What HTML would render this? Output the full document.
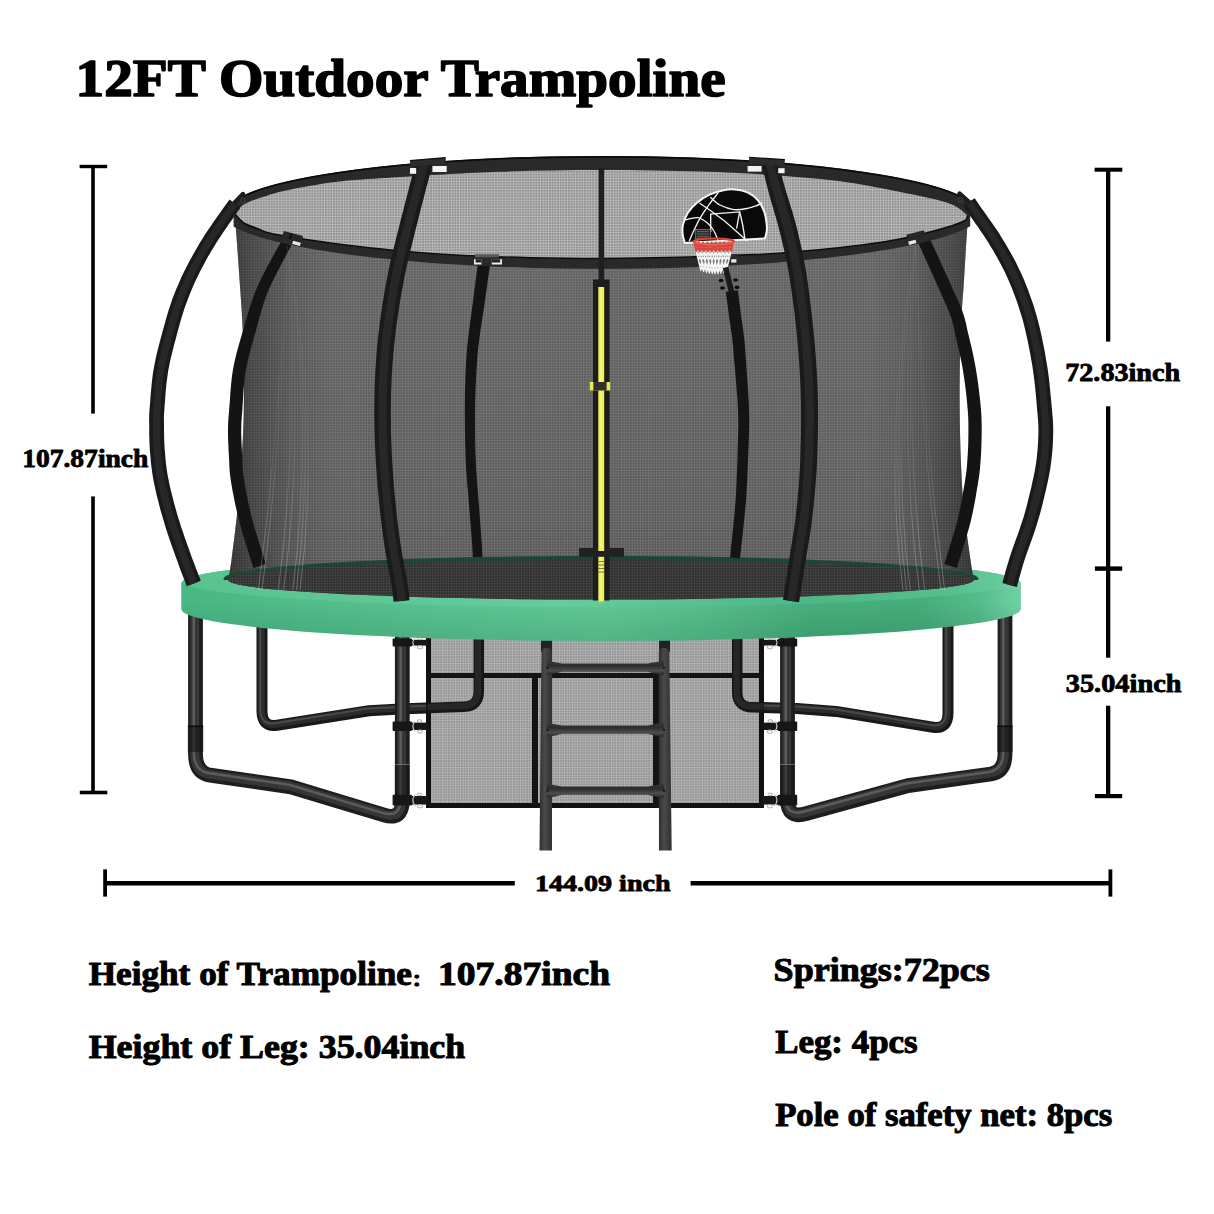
<!DOCTYPE html>
<html lang="en"><head><meta charset="utf-8"><title>12FT Outdoor Trampoline</title>
<style>
html,body{margin:0;padding:0;background:#fff;}
body{width:1214px;height:1214px;overflow:hidden;}
svg{display:block;}
text{font-family:"Liberation Serif","DejaVu Serif",serif;font-weight:bold;fill:#000;stroke:#000;stroke-linejoin:round;}
</style></head><body>
<svg width="1214" height="1214" viewBox="0 0 1214 1214">
<defs>
<pattern id="meshL" width="2.7" height="2.7" patternUnits="userSpaceOnUse">
<rect width="2.7" height="2.7" fill="#909090"/><path d="M0,0.4H2.7M0.4,0V2.7" stroke="#bfbfbf" stroke-width="0.8"/></pattern>
<pattern id="meshD" width="2.7" height="2.7" patternUnits="userSpaceOnUse">
<path d="M0,0.4H2.7M0.4,0V2.7" stroke="#8e8e8e" stroke-width="0.7" opacity="0.6"/></pattern>
<pattern id="meshS" width="2.6" height="2.6" patternUnits="userSpaceOnUse">
<rect width="2.6" height="2.6" fill="#949494"/><path d="M0,0H2.6M0,0V2.6" stroke="#c8c8c8" stroke-width="0.9"/></pattern>
<linearGradient id="netG" x1="0" y1="0" x2="0" y2="1">
<stop offset="0" stop-color="#606060"/><stop offset="0.6" stop-color="#5b5b5b"/><stop offset="1" stop-color="#535353"/></linearGradient>
<linearGradient id="edgeG" gradientUnits="userSpaceOnUse" x1="228" y1="0" x2="975" y2="0">
<stop offset="0" stop-color="#000" stop-opacity="0.45"/><stop offset="0.035" stop-color="#000" stop-opacity="0.27"/><stop offset="0.08" stop-color="#000" stop-opacity="0.12"/><stop offset="0.14" stop-color="#000" stop-opacity="0"/>
<stop offset="0.86" stop-color="#000" stop-opacity="0"/><stop offset="0.92" stop-color="#000" stop-opacity="0.12"/><stop offset="0.965" stop-color="#000" stop-opacity="0.27"/><stop offset="1" stop-color="#000" stop-opacity="0.45"/></linearGradient>
<linearGradient id="streakG" gradientUnits="userSpaceOnUse" x1="0" y1="246" x2="0" y2="598">
<stop offset="0" stop-color="#fff" stop-opacity="0.03"/><stop offset="0.55" stop-color="#fff" stop-opacity="0.1"/><stop offset="0.85" stop-color="#fff" stop-opacity="0.36"/><stop offset="1" stop-color="#fff" stop-opacity="0.45"/></linearGradient>
<linearGradient id="padG" x1="0" y1="0" x2="1" y2="0">
<stop offset="0" stop-color="#48b784"/><stop offset="0.12" stop-color="#4fbc89"/><stop offset="0.3" stop-color="#59c492"/><stop offset="0.5" stop-color="#60c997"/><stop offset="0.62" stop-color="#56bf8d"/><stop offset="0.75" stop-color="#46af7d"/><stop offset="0.88" stop-color="#45ad7b"/><stop offset="0.95" stop-color="#54bc8b"/><stop offset="1" stop-color="#70d2a3"/></linearGradient>
<linearGradient id="padV" x1="0" y1="0" x2="0" y2="1">
<stop offset="0" stop-color="#000" stop-opacity="0"/><stop offset="0.55" stop-color="#000" stop-opacity="0"/><stop offset="1" stop-color="#003018" stop-opacity="0.13"/></linearGradient>
<linearGradient id="padTG" x1="0" y1="0" x2="1" y2="0">
<stop offset="0" stop-color="#58c290"/><stop offset="0.45" stop-color="#66cc9c"/><stop offset="0.75" stop-color="#4eb786"/><stop offset="0.92" stop-color="#57bf8e"/><stop offset="1" stop-color="#6ccfa0"/></linearGradient>
<linearGradient id="legV" x1="0" y1="0" x2="1" y2="0">
<stop offset="0" stop-color="#161616"/><stop offset="0.35" stop-color="#4b4b4b"/><stop offset="0.6" stop-color="#2a2a2a"/><stop offset="1" stop-color="#111"/></linearGradient>
<linearGradient id="ladG" x1="0" y1="0" x2="1" y2="0">
<stop offset="0" stop-color="#2e2e2e"/><stop offset="0.4" stop-color="#4a4a4a"/><stop offset="1" stop-color="#303030"/></linearGradient>
<linearGradient id="stepG" x1="0" y1="0" x2="0" y2="1">
<stop offset="0" stop-color="#3a3a3a"/><stop offset="0.35" stop-color="#2c2c2c"/><stop offset="0.7" stop-color="#4c4c4c"/><stop offset="1" stop-color="#262626"/></linearGradient>
<linearGradient id="ringG" x1="0" y1="0" x2="0" y2="1">
<stop offset="0" stop-color="#0c0c0c"/><stop offset="1" stop-color="#2b2b2b"/></linearGradient>
</defs>
<rect width="1214" height="1214" fill="#fff"/>

<g id="legs-back">
<path d="M262,615 V711 Q262,727.5 277,725.3 L369,710.7 L405,708.8 L464,706.8 Q478.8,706.3 478.8,691 V630" fill="none" stroke="#181818" stroke-width="11.0" stroke-linejoin="round" /><path d="M262,615 V711 Q262,727.5 277,725.3 L369,710.7 L405,708.8 L464,706.8 Q478.8,706.3 478.8,691 V630" fill="none" stroke="#2c2c2c" stroke-width="6.6" stroke-linejoin="round" transform="translate(-0.7,-0.9)" /><path d="M262,615 V711 Q262,727.5 277,725.3 L369,710.7 L405,708.8 L464,706.8 Q478.8,706.3 478.8,691 V630" fill="none" stroke="#4a4a4a" stroke-width="1.9" stroke-linejoin="round" transform="translate(-1.7,-2.1)" />
<path d="M948,615 V713 Q948,729.5 933,727.2 L836,711.4 L797,708.5 L752,707.3 Q737.2,707 737.2,692 V630" fill="none" stroke="#181818" stroke-width="11.0" stroke-linejoin="round" /><path d="M948,615 V713 Q948,729.5 933,727.2 L836,711.4 L797,708.5 L752,707.3 Q737.2,707 737.2,692 V630" fill="none" stroke="#2c2c2c" stroke-width="6.6" stroke-linejoin="round" transform="translate(-0.7,-0.9)" /><path d="M948,615 V713 Q948,729.5 933,727.2 L836,711.4 L797,708.5 L752,707.3 Q737.2,707 737.2,692 V630" fill="none" stroke="#4a4a4a" stroke-width="1.9" stroke-linejoin="round" transform="translate(-1.7,-2.1)" />
</g>
<g id="skirt">
<rect x="428" y="636" width="334" height="170" fill="url(#meshS)"/>
<path d="M428.5,636V805.5H761.5V636" fill="none" stroke="#111" stroke-width="5"/>
<rect x="426" y="673" width="338" height="5" fill="#141414"/>
<rect x="532" y="675" width="6" height="131" fill="#141414"/>
<rect x="653" y="675" width="6" height="131" fill="#141414"/>
<rect x="541" y="636" width="11" height="16" fill="#222"/>
<rect x="659" y="636" width="11" height="16" fill="#222"/>
</g>
<g id="legs-back-inner">
<path d="M478.8,630 V691 Q478.8,706.3 464,706.8 L428,708" fill="none" stroke="#171717" stroke-width="10.5" stroke-linejoin="round" /><path d="M478.8,630 V691 Q478.8,706.3 464,706.8 L428,708" fill="none" stroke="#262626" stroke-width="6.3" stroke-linejoin="round" transform="translate(-0.7,-0.9)" />
<path d="M737.2,630 V692 Q737.2,707 752,707.3 L764,707.6" fill="none" stroke="#171717" stroke-width="10.5" stroke-linejoin="round" /><path d="M737.2,630 V692 Q737.2,707 752,707.3 L764,707.6" fill="none" stroke="#262626" stroke-width="6.3" stroke-linejoin="round" transform="translate(-0.7,-0.9)" />
</g>
<g id="ladder">
<path d="M541.5,652 Q541.5,648 546.7,648 Q552,648 552,652 L552,850.5 L539.5,850.5 Z" fill="url(#ladG)"/>
<path d="M658.8,652 Q658.8,648 664,648 Q669.3,648 669.3,652 L671.7,850.5 L659,850.5 Z" fill="url(#ladG)"/>
<path d="M547,660.8 Q556,662.3 562,663.5 L648,663.5 Q654,662.3 664,660.8 L664,674.8 Q654,673.8 648,671.8 L562,671.8 Q556,673.8 547,674.8 Z" fill="url(#stepG)"/>
<circle cx="547.5" cy="667.8" r="1.1" fill="#111"/><circle cx="664" cy="667.8" r="1.1" fill="#111"/>
<path d="M547,722.8 Q556,724.3 562,725.5 L648,725.5 Q654,724.3 664,722.8 L664,736.8 Q654,735.8 648,733.8 L562,733.8 Q556,735.8 547,736.8 Z" fill="url(#stepG)"/>
<circle cx="547.5" cy="729.8" r="1.1" fill="#111"/><circle cx="664" cy="729.8" r="1.1" fill="#111"/>
<path d="M547,783.7 Q556,785.2 562,786.4 L648,786.4 Q654,785.2 664,783.7 L664,797.7 Q654,796.7 648,794.7 L562,794.7 Q556,796.7 547,797.7 Z" fill="url(#stepG)"/>
<circle cx="547.5" cy="790.7" r="1.1" fill="#111"/><circle cx="664" cy="790.7" r="1.1" fill="#111"/>
</g>
<g id="legs-front">
<path d="M195.5,600 V754 Q195.5,772.6 210,775.2 L291,786.8 L384,815 Q402.3,820.5 402.3,801 V630" fill="none" stroke="#1e1e1e" stroke-width="14.8" stroke-linejoin="round" /><path d="M195.5,600 V754 Q195.5,772.6 210,775.2 L291,786.8 L384,815 Q402.3,820.5 402.3,801 V630" fill="none" stroke="#363636" stroke-width="8.9" stroke-linejoin="round" transform="translate(-0.7,-0.9)" /><path d="M195.5,600 V754 Q195.5,772.6 210,775.2 L291,786.8 L384,815 Q402.3,820.5 402.3,801 V630" fill="none" stroke="#5c5c5c" stroke-width="2.5" stroke-linejoin="round" transform="translate(-1.7,-2.1)" />
<path d="M1005,600 V754 Q1005,771.5 991,774 L908,785.6 L806,813.6 Q787.5,819 787.5,800 V630" fill="none" stroke="#1e1e1e" stroke-width="14.8" stroke-linejoin="round" /><path d="M1005,600 V754 Q1005,771.5 991,774 L908,785.6 L806,813.6 Q787.5,819 787.5,800 V630" fill="none" stroke="#363636" stroke-width="8.9" stroke-linejoin="round" transform="translate(-0.7,-0.9)" /><path d="M1005,600 V754 Q1005,771.5 991,774 L908,785.6 L806,813.6 Q787.5,819 787.5,800 V630" fill="none" stroke="#5c5c5c" stroke-width="2.5" stroke-linejoin="round" transform="translate(-1.7,-2.1)" />
<rect x="187.8" y="725.5" width="15.5" height="2" fill="#0a0a0a"/>
<rect x="187.8" y="728" width="15.5" height="24" fill="#141414" opacity="0.6"/>
<rect x="997.2" y="725.5" width="15.5" height="2" fill="#0a0a0a"/>
<rect x="997.2" y="728" width="15.5" height="24" fill="#141414" opacity="0.6"/>
<rect x="392.6" y="638.6" width="19.4" height="8.0" rx="1" fill="#161616"/>
<rect x="410.8" y="639.8" width="17.0" height="5.8" fill="#171717"/>
<path d="M415.3,638.1 q-5.0,4.5 0,9.0" fill="none" stroke="#c9c9c9" stroke-width="1.2"/>
<ellipse cx="419.9" cy="647.2" rx="2.6" ry="1.5" fill="none" stroke="#bdbdbd" stroke-width="1.1"/>
<ellipse cx="419.5" cy="638.2" rx="2.4" ry="1.3" fill="none" stroke="#a8a8a8" stroke-width="1"/>
<rect x="392.6" y="721.4" width="19.4" height="9.6" rx="1" fill="#161616"/>
<rect x="410.8" y="722.6" width="17.0" height="7.4" fill="#171717"/>
<path d="M415.3,720.9 q-5.0,5.3 0,10.6" fill="none" stroke="#c9c9c9" stroke-width="1.2"/>
<ellipse cx="419.9" cy="731.6" rx="2.6" ry="1.5" fill="none" stroke="#bdbdbd" stroke-width="1.1"/>
<ellipse cx="419.5" cy="721.0" rx="2.4" ry="1.3" fill="none" stroke="#a8a8a8" stroke-width="1"/>
<rect x="392.6" y="794.8" width="19.4" height="10.8" rx="1" fill="#161616"/>
<rect x="410.8" y="796.0" width="17.0" height="8.6" fill="#171717"/>
<path d="M415.3,794.3 q-5.0,5.9 0,11.8" fill="none" stroke="#c9c9c9" stroke-width="1.2"/>
<ellipse cx="419.9" cy="806.2" rx="2.6" ry="1.5" fill="none" stroke="#bdbdbd" stroke-width="1.1"/>
<ellipse cx="419.5" cy="794.4" rx="2.4" ry="1.3" fill="none" stroke="#a8a8a8" stroke-width="1"/>
<rect x="777.8" y="638.6" width="19.4" height="8.0" rx="1" fill="#161616"/>
<rect x="762.0" y="639.8" width="17.0" height="5.8" fill="#171717"/>
<path d="M774.5,638.1 q5.0,4.5 0,9.0" fill="none" stroke="#c9c9c9" stroke-width="1.2"/>
<ellipse cx="769.9" cy="647.2" rx="2.6" ry="1.5" fill="none" stroke="#bdbdbd" stroke-width="1.1"/>
<ellipse cx="770.3" cy="638.2" rx="2.4" ry="1.3" fill="none" stroke="#a8a8a8" stroke-width="1"/>
<rect x="777.8" y="721.4" width="19.4" height="9.6" rx="1" fill="#161616"/>
<rect x="762.0" y="722.6" width="17.0" height="7.4" fill="#171717"/>
<path d="M774.5,720.9 q5.0,5.3 0,10.6" fill="none" stroke="#c9c9c9" stroke-width="1.2"/>
<ellipse cx="769.9" cy="731.6" rx="2.6" ry="1.5" fill="none" stroke="#bdbdbd" stroke-width="1.1"/>
<ellipse cx="770.3" cy="721.0" rx="2.4" ry="1.3" fill="none" stroke="#a8a8a8" stroke-width="1"/>
<rect x="777.8" y="794.8" width="19.4" height="10.8" rx="1" fill="#161616"/>
<rect x="762.0" y="796.0" width="17.0" height="8.6" fill="#171717"/>
<path d="M774.5,794.3 q5.0,5.9 0,11.8" fill="none" stroke="#c9c9c9" stroke-width="1.2"/>
<ellipse cx="769.9" cy="806.2" rx="2.6" ry="1.5" fill="none" stroke="#bdbdbd" stroke-width="1.1"/>
<ellipse cx="770.3" cy="794.4" rx="2.4" ry="1.3" fill="none" stroke="#a8a8a8" stroke-width="1"/>
<rect x="394.8" y="764" width="15" height="1" fill="#777" opacity="0.8"/>
<rect x="394.8" y="765" width="15" height="30" fill="#151515" opacity="0.45"/>
<rect x="780.0" y="764" width="15" height="1" fill="#777" opacity="0.8"/>
<rect x="780.0" y="765" width="15" height="30" fill="#151515" opacity="0.45"/>
</g>
<g id="pad">
<path d="M181.3,583.2 A419.7,28.6 0 0 1 1020.9,583.2 L1020.9,609 A419.8,32 0 0 1 181.3,609 Z" fill="url(#padG)"/>
<path d="M181.3,583.2 A419.7,28.6 0 0 1 1020.9,583.2 L1020.9,609 A419.8,32 0 0 1 181.3,609 Z" fill="url(#padV)"/>
<path d="M181.3,583.2 A419.7,28.6 0 0 1 1020.9,583.2 L1020.6,581.5 A419.6,26 0 0 1 181.6,581.5 Z" fill="url(#padTG)"/>
</g>
<g id="net">
<path d="M233,205 L233.0,208.0 C233.3,209.7 234.0,207.3 235.0,218.0 C236.0,228.7 237.7,252.2 239.0,272.0 C240.3,291.8 242.2,312.3 243.0,337.0 C243.8,361.7 244.3,393.0 243.6,420.0 C242.8,447.0 240.5,475.7 238.5,499.0 C236.5,522.3 233.2,546.5 231.5,560.0 C229.8,573.5 228.6,576.5 228.0,579.8 A373.0,19.8 0 0 0 974.0,579.8 L974.0,579.8 C973.4,576.5 972.3,573.5 970.5,560.0 C968.7,546.5 964.8,522.3 963.0,499.0 C961.2,475.7 960.2,447.0 959.8,420.0 C959.4,393.0 959.8,360.3 960.5,337.0 C961.2,313.7 962.8,299.8 964.0,280.0 C965.2,260.2 967.0,230.0 968.0,218.0 C969.0,206.0 969.7,209.7 970.0,208.0 Z" fill="url(#netG)"/>
<path d="M233,205 L233.0,208.0 C233.3,209.7 234.0,207.3 235.0,218.0 C236.0,228.7 237.7,252.2 239.0,272.0 C240.3,291.8 242.2,312.3 243.0,337.0 C243.8,361.7 244.3,393.0 243.6,420.0 C242.8,447.0 240.5,475.7 238.5,499.0 C236.5,522.3 233.2,546.5 231.5,560.0 C229.8,573.5 228.6,576.5 228.0,579.8 A373.0,19.8 0 0 0 974.0,579.8 L974.0,579.8 C973.4,576.5 972.3,573.5 970.5,560.0 C968.7,546.5 964.8,522.3 963.0,499.0 C961.2,475.7 960.2,447.0 959.8,420.0 C959.4,393.0 959.8,360.3 960.5,337.0 C961.2,313.7 962.8,299.8 964.0,280.0 C965.2,260.2 967.0,230.0 968.0,218.0 C969.0,206.0 969.7,209.7 970.0,208.0 Z" fill="url(#meshD)"/>
<path d="M233,205 L233.0,208.0 C233.3,209.7 234.0,207.3 235.0,218.0 C236.0,228.7 237.7,252.2 239.0,272.0 C240.3,291.8 242.2,312.3 243.0,337.0 C243.8,361.7 244.3,393.0 243.6,420.0 C242.8,447.0 240.5,475.7 238.5,499.0 C236.5,522.3 233.2,546.5 231.5,560.0 C229.8,573.5 228.6,576.5 228.0,579.8 A373.0,19.8 0 0 0 974.0,579.8 L974.0,579.8 C973.4,576.5 972.3,573.5 970.5,560.0 C968.7,546.5 964.8,522.3 963.0,499.0 C961.2,475.7 960.2,447.0 959.8,420.0 C959.4,393.0 959.8,360.3 960.5,337.0 C961.2,313.7 962.8,299.8 964.0,280.0 C965.2,260.2 967.0,230.0 968.0,218.0 C969.0,206.0 969.7,209.7 970.0,208.0 Z" fill="url(#edgeG)"/>
<clipPath id="gClip"><rect x="200" y="540" width="820" height="40"/></clipPath>
<ellipse cx="601" cy="578.8" rx="377.5" ry="23" fill="#1b4733" clip-path="url(#gClip)"/>
<ellipse cx="601.0" cy="579.8" rx="373.0" ry="19.8" fill="#2d2d2d"/>
<ellipse cx="601.0" cy="579.8" rx="373.0" ry="19.8" fill="url(#meshD)" opacity="0.5"/>
</g>
<g id="poles-back" fill="#141414">
<path d="M281.7,240.5 L279.8,244.0 L277.1,248.8 L273.9,254.5 L270.4,260.9 L266.8,267.6 L263.3,274.3 L260.1,280.8 L257.4,286.7 L255.1,292.1 L253.1,297.4 L251.4,302.5 L249.8,307.4 L248.3,312.3 L246.9,317.2 L245.5,322.1 L244.1,327.0 L242.6,332.0 L241.1,337.1 L239.6,342.3 L238.1,347.5 L236.7,352.7 L235.4,357.9 L234.2,363.2 L233.2,368.4 L232.3,373.7 L231.6,379.2 L231.1,384.6 L230.6,390.0 L230.2,395.2 L229.9,400.0 L229.6,404.5 L229.2,408.5 L229.0,411.9 L228.7,414.9 L228.5,417.6 L228.3,420.0 L228.2,422.3 L228.1,424.7 L228.0,427.2 L228.0,430.0 L228.0,433.0 L228.0,436.1 L228.1,439.3 L228.2,442.5 L228.4,445.8 L228.5,449.0 L228.7,452.2 L228.9,455.3 L229.0,458.3 L229.2,461.2 L229.3,464.0 L229.4,467.0 L229.6,470.1 L229.9,473.4 L230.3,477.0 L230.9,481.0 L231.6,485.3 L232.4,490.0 L233.4,495.0 L234.4,500.2 L235.5,505.4 L236.7,510.7 L237.9,516.0 L239.2,521.1 L240.6,526.4 L242.2,532.0 L243.9,537.6 L245.6,543.2 L247.3,548.5 L248.8,553.4 L250.1,557.6 L251.2,560.9 L251.9,563.4 L252.5,565.2 L252.9,566.4 L253.2,567.2 L253.4,567.8 L253.6,568.1 L253.5,568.0 L253.6,568.2 L265.8,563.8 L265.7,563.4 L265.5,562.9 L265.5,562.9 L265.4,562.8 L265.2,562.3 L264.9,561.2 L264.4,559.5 L263.6,557.1 L262.6,553.7 L261.2,549.4 L259.7,544.6 L258.0,539.3 L256.4,533.8 L254.7,528.3 L253.2,522.9 L251.8,517.9 L250.6,512.9 L249.5,507.8 L248.3,502.7 L247.3,497.5 L246.3,492.5 L245.4,487.7 L244.6,483.1 L243.9,479.0 L243.4,475.3 L243.0,472.1 L242.8,469.1 L242.6,466.2 L242.5,463.5 L242.4,460.7 L242.3,457.7 L242.1,454.7 L241.9,451.5 L241.8,448.3 L241.6,445.1 L241.5,442.0 L241.4,438.9 L241.3,435.8 L241.2,432.9 L241.2,430.0 L241.3,427.4 L241.3,425.1 L241.4,423.0 L241.5,420.8 L241.7,418.5 L241.8,416.0 L242.1,413.0 L242.4,409.5 L242.6,405.4 L242.9,400.9 L243.2,396.0 L243.5,391.0 L243.9,385.8 L244.4,380.6 L245.0,375.5 L245.8,370.6 L246.7,365.7 L247.8,360.8 L249.0,355.8 L250.3,350.7 L251.6,345.7 L253.1,340.6 L254.5,335.5 L255.9,330.4 L257.3,325.4 L258.6,320.5 L259.9,315.7 L261.3,310.9 L262.7,306.1 L264.3,301.3 L266.0,296.4 L268.0,291.3 L270.5,285.7 L273.5,279.4 L276.9,272.8 L280.3,266.2 L283.7,259.8 L286.8,254.0 L289.4,249.2 L291.3,245.5Z"/>
<path d="M915.9,237.5 L916.5,239.0 L917.4,240.9 L918.4,243.2 L919.5,245.7 L920.8,248.5 L922.1,251.5 L923.5,254.5 L924.8,257.6 L926.3,260.8 L927.8,264.2 L929.5,267.7 L931.1,271.4 L932.8,275.1 L934.5,278.9 L936.2,282.7 L937.9,286.4 L939.5,290.1 L941.3,294.0 L943.0,297.9 L944.7,301.8 L946.4,305.6 L947.9,309.2 L949.3,312.6 L950.4,315.7 L951.4,318.3 L952.1,320.5 L952.6,322.5 L953.0,324.3 L953.5,326.3 L954.0,328.5 L954.5,331.2 L955.3,334.4 L956.1,338.2 L957.1,342.3 L958.1,346.8 L959.2,351.4 L960.2,356.2 L961.2,361.1 L962.2,365.9 L963.0,370.6 L963.7,375.4 L964.5,380.4 L965.2,385.5 L965.8,390.7 L966.4,395.8 L966.9,400.7 L967.3,405.3 L967.7,409.6 L968.0,413.4 L968.2,416.8 L968.3,420.0 L968.4,423.0 L968.4,425.9 L968.4,428.9 L968.4,431.8 L968.4,434.9 L968.3,438.1 L968.3,441.3 L968.2,444.4 L968.1,447.6 L967.9,450.7 L967.8,453.8 L967.6,456.7 L967.4,459.5 L967.2,462.1 L967.1,464.4 L966.9,466.5 L966.7,468.4 L966.5,470.5 L966.2,472.9 L965.8,475.6 L965.3,479.0 L964.7,482.9 L963.9,487.4 L963.1,492.3 L962.2,497.4 L961.3,502.6 L960.2,507.9 L959.2,513.0 L958.0,518.0 L956.8,523.0 L955.3,528.3 L953.6,533.9 L952.0,539.4 L950.4,544.6 L948.8,549.5 L947.5,553.7 L946.5,557.1 L945.7,559.6 L945.2,561.3 L944.9,562.3 L944.7,562.9 L944.6,563.1 L944.6,563.2 L944.5,563.5 L944.3,564.0 L956.7,568.0 L956.7,567.8 L956.7,567.8 L956.9,567.6 L957.0,567.0 L957.3,566.3 L957.6,565.1 L958.2,563.4 L958.9,560.9 L960.0,557.5 L961.3,553.4 L962.8,548.5 L964.5,543.2 L966.2,537.6 L967.8,531.9 L969.4,526.4 L970.8,521.0 L972.0,515.8 L973.1,510.5 L974.2,505.1 L975.2,499.7 L976.1,494.5 L976.9,489.6 L977.7,485.1 L978.3,481.0 L978.9,477.6 L979.3,474.6 L979.6,472.1 L979.9,469.8 L980.1,467.6 L980.2,465.4 L980.4,463.1 L980.6,460.5 L980.8,457.5 L981.0,454.5 L981.2,451.4 L981.3,448.2 L981.4,444.9 L981.5,441.6 L981.6,438.3 L981.6,435.1 L981.7,431.9 L981.7,428.9 L981.7,425.9 L981.6,422.8 L981.6,419.6 L981.4,416.1 L981.2,412.5 L980.9,408.4 L980.5,404.1 L980.0,399.3 L979.4,394.3 L978.8,389.1 L978.1,383.8 L977.4,378.6 L976.6,373.4 L975.8,368.4 L974.9,363.5 L973.9,358.5 L972.9,353.5 L971.8,348.6 L970.7,343.9 L969.6,339.4 L968.6,335.3 L967.7,331.6 L967.0,328.4 L966.5,325.8 L966.0,323.5 L965.5,321.4 L964.9,319.2 L964.2,316.8 L963.4,314.3 L962.4,311.3 L961.1,307.9 L959.6,304.3 L958.0,300.6 L956.3,296.7 L954.5,292.7 L952.7,288.8 L951.0,285.0 L949.3,281.2 L947.7,277.5 L946.0,273.7 L944.2,270.0 L942.5,266.2 L940.8,262.5 L939.2,259.0 L937.6,255.6 L936.2,252.4 L934.8,249.4 L933.4,246.4 L932.1,243.4 L930.8,240.7 L929.7,238.1 L928.6,235.9 L927.8,234.0 L927.1,232.5Z"/>
<path d="M478.4,259.2 L477.9,262.9 L477.3,268.0 L476.5,274.0 L475.6,280.7 L474.7,287.7 L473.8,294.7 L473.0,301.3 L472.2,307.2 L471.5,312.5 L470.8,317.6 L470.1,322.6 L469.5,327.5 L468.8,332.3 L468.2,337.1 L467.7,342.0 L467.2,347.0 L466.8,352.0 L466.4,357.0 L466.1,362.0 L465.8,367.0 L465.6,371.9 L465.4,376.9 L465.3,381.9 L465.1,386.8 L465.0,391.8 L464.9,396.8 L464.9,401.7 L464.8,406.7 L464.8,411.7 L464.8,416.6 L464.9,421.6 L464.9,426.5 L465.0,431.5 L465.1,436.4 L465.1,441.4 L465.3,446.4 L465.4,451.3 L465.6,456.3 L465.8,461.3 L466.0,466.3 L466.3,471.2 L466.7,476.2 L467.0,481.2 L467.4,486.2 L467.9,491.1 L468.3,496.0 L468.7,501.0 L469.1,505.9 L469.5,511.0 L469.9,516.4 L470.4,521.9 L470.8,527.3 L471.2,532.6 L471.6,537.4 L471.9,541.7 L472.2,545.3 L472.4,548.2 L472.5,550.5 L472.6,552.2 L472.6,553.6 L472.7,554.7 L472.7,555.5 L472.7,556.4 L472.7,557.1 L482.3,556.9 L482.3,556.2 L482.3,555.4 L482.3,554.5 L482.2,553.3 L482.2,551.9 L482.1,550.0 L482.0,547.6 L481.8,544.7 L481.6,541.0 L481.3,536.7 L480.9,531.8 L480.5,526.6 L480.1,521.1 L479.7,515.6 L479.3,510.3 L478.9,505.1 L478.5,500.2 L478.1,495.2 L477.7,490.3 L477.3,485.3 L476.9,480.4 L476.6,475.5 L476.2,470.6 L476.0,465.7 L475.8,460.8 L475.6,455.9 L475.4,451.0 L475.3,446.1 L475.2,441.2 L475.2,436.3 L475.1,431.4 L475.1,426.5 L475.1,421.5 L475.1,416.6 L475.1,411.7 L475.2,406.8 L475.2,401.9 L475.3,397.0 L475.5,392.1 L475.7,387.2 L475.9,382.3 L476.1,377.3 L476.4,372.4 L476.6,367.5 L477.0,362.7 L477.3,357.8 L477.7,352.9 L478.2,348.0 L478.8,343.2 L479.4,338.5 L480.0,333.8 L480.7,329.1 L481.5,324.3 L482.2,319.3 L483.0,314.2 L483.8,308.8 L484.6,302.9 L485.6,296.3 L486.6,289.3 L487.5,282.3 L488.5,275.7 L489.4,269.6 L490.1,264.6 L490.6,260.8Z"/>
<path d="M725.8,291.8 L726.1,294.0 L726.5,297.0 L726.9,300.6 L727.5,304.5 L728.0,308.6 L728.6,312.7 L729.1,316.5 L729.5,319.8 L730.0,322.7 L730.4,325.4 L730.7,328.0 L731.1,330.4 L731.5,332.7 L731.8,335.0 L732.1,337.3 L732.4,339.7 L732.6,341.9 L732.8,343.7 L733.0,345.5 L733.1,347.3 L733.3,349.4 L733.5,351.9 L733.7,355.1 L734.0,359.0 L734.5,364.0 L735.0,369.9 L735.6,376.5 L736.2,383.4 L736.7,390.5 L737.3,397.5 L737.7,404.1 L738.0,410.2 L738.2,415.7 L738.2,420.7 L738.3,425.6 L738.2,430.3 L738.1,435.1 L738.0,440.0 L737.8,445.2 L737.6,450.8 L737.5,456.8 L737.3,463.1 L737.1,469.6 L736.8,476.2 L736.5,483.0 L736.2,489.8 L735.8,496.5 L735.3,503.2 L734.8,510.2 L734.1,517.9 L733.3,525.7 L732.5,533.5 L731.8,541.0 L731.0,547.6 L730.5,553.3 L730.0,557.5 L740.0,558.5 L740.4,554.3 L741.1,548.7 L741.8,542.1 L742.7,534.6 L743.5,526.8 L744.3,518.8 L745.1,511.1 L745.7,504.0 L746.2,497.2 L746.6,490.3 L747.0,483.5 L747.3,476.7 L747.6,470.0 L747.9,463.5 L748.1,457.2 L748.4,451.2 L748.6,445.6 L748.8,440.4 L748.9,435.4 L749.1,430.5 L749.1,425.7 L749.2,420.7 L749.1,415.4 L749.0,409.8 L748.8,403.6 L748.4,396.8 L748.0,389.7 L747.5,382.5 L747.0,375.5 L746.5,369.0 L746.1,363.1 L745.8,358.2 L745.5,354.2 L745.3,351.1 L745.1,348.5 L745.0,346.4 L744.8,344.5 L744.7,342.6 L744.5,340.6 L744.2,338.3 L743.9,335.8 L743.6,333.4 L743.3,331.0 L743.0,328.6 L742.6,326.2 L742.2,323.7 L741.9,321.0 L741.5,318.2 L741.0,314.9 L740.5,311.1 L740.0,307.1 L739.5,303.0 L739.0,299.0 L738.5,295.4 L738.1,292.4 L737.8,290.2Z"/>
</g>
<g id="streaks" stroke-width="0.6" fill="none">
<path d="M287.5,246 Q279.4,430 258.4,590" stroke="url(#streakG)"/>
<path d="M915.5,246 Q923.6,430 944.6,590" stroke="url(#streakG)"/>
<path d="M287.5,246 Q283.0,430 262.0,590" stroke="url(#streakG)"/>
<path d="M915.5,246 Q920.0,430 941.0,590" stroke="url(#streakG)"/>
<path d="M287.5,246 Q299.3,430 278.3,590" stroke="url(#streakG)"/>
<path d="M915.5,246 Q903.7,430 924.7,590" stroke="url(#streakG)"/>
<path d="M287.5,246 Q304.7,430 283.7,590" stroke="url(#streakG)"/>
<path d="M915.5,246 Q898.3,430 919.3,590" stroke="url(#streakG)"/>
<path d="M287.5,246 Q313.8,430 292.8,590" stroke="url(#streakG)"/>
<path d="M915.5,246 Q889.2,430 910.2,590" stroke="url(#streakG)"/>
<path d="M287.5,246 Q317.4,430 296.4,590" stroke="url(#streakG)"/>
<path d="M915.5,246 Q885.6,430 906.6,590" stroke="url(#streakG)"/>
<path d="M287.5,246 Q321.0,430 300.0,590" stroke="url(#streakG)"/>
<path d="M915.5,246 Q882.0,430 903.0,590" stroke="url(#streakG)"/>
</g>
<clipPath id="ringClip"><rect x="233.6" y="140" width="736.6" height="140"/></clipPath>
<g id="topring" clip-path="url(#ringClip)">
<path d="M228,211.5 A373.5,55.5 0 0 1 975,211.5 L981.5,212.5 A380,56.3 0 0 1 221.5,212.5 Z" fill="#292929"/>
<path d="M228.8,211.5 A372.7,54.7 0 0 1 974.2,211.5" fill="none" stroke="#0b0b0b" stroke-width="1.8"/>
<path d="M235.5,214.5 C236.8,212.9 238.6,207.9 243.0,205.0 C247.4,202.1 254.8,199.7 262.0,197.3 C269.1,194.9 273.7,193.0 285.9,190.4 C298.1,187.8 318.8,184.1 335.3,182.0 C351.8,179.9 372.4,178.9 384.7,178.0 C397.0,177.1 390.2,177.4 409.4,176.4 C428.6,175.4 468.1,172.9 500.0,171.8 C531.9,170.8 567.7,170.1 601.0,170.1 C634.3,170.1 671.8,170.8 700.0,171.6 C728.2,172.4 746.7,173.4 770.0,175.0 C793.3,176.6 818.5,178.4 840.0,181.2 C861.5,184.0 881.2,188.1 899.3,191.8 C917.4,195.5 937.3,199.4 948.7,203.3 C960.1,207.2 964.4,213.5 967.5,215.5 L965.0,220.5 C962.2,221.6 958.0,224.1 948.0,227.0 C938.0,229.9 919.7,234.9 905.0,238.0 C890.3,241.1 881.0,242.8 860.0,245.3 C839.0,247.9 799.0,251.7 779.0,253.3 C759.0,254.9 756.5,254.2 740.0,254.9 C723.5,255.6 703.2,256.7 680.0,257.3 C656.8,257.9 626.0,258.4 601.0,258.5 C576.0,258.6 553.5,258.2 530.0,257.7 C506.5,257.1 481.7,256.3 460.0,255.2 C438.3,254.1 420.0,252.7 400.0,250.9 C380.0,249.1 361.1,247.1 340.0,244.3 C318.9,241.5 287.1,236.6 273.5,234.0 C259.9,231.4 263.6,230.8 258.6,229.0 C253.7,227.2 247.7,225.4 243.8,223.0 C240.0,220.6 236.9,215.9 235.5,214.5 Z" fill="url(#meshL)"/>
<path d="M967.5,215.5 C967.1,216.3 968.2,218.6 965.0,220.5 C961.8,222.4 958.0,224.1 948.0,227.0 C938.0,229.9 919.7,234.9 905.0,238.0 C890.3,241.1 881.0,242.8 860.0,245.3 C839.0,247.9 799.0,251.7 779.0,253.3 C759.0,254.9 756.5,254.2 740.0,254.9 C723.5,255.6 703.2,256.7 680.0,257.3 C656.8,257.9 626.0,258.4 601.0,258.5 C576.0,258.6 553.5,258.2 530.0,257.7 C506.5,257.1 481.7,256.3 460.0,255.2 C438.3,254.1 420.0,252.7 400.0,250.9 C380.0,249.1 361.1,247.1 340.0,244.3 C318.9,241.5 287.1,236.6 273.5,234.0 C259.9,231.4 263.6,230.8 258.6,229.0 C253.7,227.2 247.7,225.4 243.8,223.0 C240.0,220.6 236.9,215.9 235.5,214.5" fill="none" stroke="#0d0d0d" stroke-width="1.5"/>
</g>
<g id="clips">
<rect x="475" y="254.2" width="24" height="3.2" fill="#5a5a5a"/>
<path d="M474,259.3 h7.4 v5.2 h-7.4 Z M491.8,259.3 h10.2 v5.2 h-10.2 Z" fill="#ededed"/>
<path d="M475.6,259.3 h5.8 v3.3 h-5.8 Z M491.8,259.3 h8.4 v3.3 h-8.4 Z" fill="#222"/>
<g transform="translate(292.5,237) rotate(15)"><rect x="-10" y="-3.6" width="20" height="6.6" fill="#262626"/><rect x="1.5" y="3.4" width="8" height="3.4" fill="#e6e6e6"/><rect x="-3" y="-3.6" width="2" height="6.6" fill="#111"/></g>
<g transform="translate(916,236) rotate(-15)"><rect x="-9" y="-3.6" width="18" height="6.6" fill="#262626"/><rect x="-9" y="3.4" width="7.6" height="3.6" fill="#e6e6e6"/></g>
<rect x="729.6" y="254.2" width="8" height="4.4" fill="#2a2a2a"/><rect x="731.2" y="259.2" width="5.2" height="3.4" fill="#e4e4e4"/>
</g>
<g id="zipper">
<rect x="598.6" y="168" width="5.6" height="115" fill="#1f1f1f"/>
<rect x="593" y="279.5" width="16.6" height="321" fill="#1d1d1d"/>
<rect x="598.3" y="287" width="5.9" height="314.5" fill="#eef05a"/>
<rect x="600" y="287" width="2" height="314" fill="#f6f78a" opacity="0.7"/>
<path d="M598.3,561.5h5.9M598.3,565h5.9M598.3,568.5h5.9M598.3,572h5.9" stroke="#4a4a2a" stroke-width="1.2" opacity="0.7"/>
<rect x="579" y="548" width="45" height="8.8" fill="#212121"/>
<rect x="598.3" y="548" width="5.9" height="3.4" fill="#eef05a"/><rect x="598" y="551.2" width="6.5" height="1.3" fill="#111"/>
<rect x="589.8" y="382" width="20.4" height="8.5" fill="#e6ea4c"/><rect x="593.4" y="382" width="13.2" height="8.5" fill="#303030"/>
<path d="M598.3,601 h5.9 l-0.6,2.6 h-4.7 Z" fill="#9ccf6c" opacity="0.7"/>
</g>
<g id="hoop">
<path d="M684.8,243.0 C684.4,241.5 682.9,236.9 682.6,233.8 C682.3,230.7 682.1,228.1 683.0,224.6 C683.9,221.1 685.4,216.7 687.7,213.0 C690.0,209.3 693.2,205.8 696.9,202.7 C700.5,199.6 705.2,196.7 709.6,194.6 C714.0,192.5 719.2,191.1 723.4,190.2 C727.6,189.3 731.0,189.1 735.0,189.4 C739.0,189.8 743.8,190.5 747.6,192.3 C751.4,194.1 755.2,197.1 758.0,200.4 C760.8,203.7 762.8,207.9 764.3,211.9 C765.8,215.9 766.3,221.3 766.7,224.6 C767.1,227.9 767.0,229.2 766.7,231.5 C766.4,233.8 765.3,237.2 765.0,238.4 Z" fill="#090909" stroke="#f4f4f4" stroke-width="2" stroke-linejoin="round"/>
<g fill="none" stroke="#f2f2f2" stroke-width="1.35" stroke-linecap="round">
<path d="M718.2,192.9 C716.8,194.7 712.6,199.7 709.6,203.8 C706.6,207.9 703.1,213.1 700.4,217.7 C697.7,222.3 695.2,227.7 693.4,231.5 C691.6,235.3 690.1,239.2 689.4,240.7"/>
<path d="M684.8,220.0 C687.0,219.6 694.1,217.0 698.0,217.7 C701.9,218.4 705.7,221.7 708.4,224.0 C711.1,226.3 712.7,228.9 714.2,231.5 C715.8,234.1 717.1,238.2 717.7,239.6"/>
<path d="M699.8,203.2 L710.7,210.7 L724.6,221 L747,240.7"/>
<path d="M710.7,197.5 C712.2,198.8 716.1,203.0 720.0,205.0 C723.9,207.0 729.2,209.0 733.8,209.6 C738.4,210.2 743.8,209.1 747.6,208.4 C751.5,207.7 754.5,206.4 756.9,205.5 C759.3,204.6 761.1,203.4 762.0,203.0"/>
<path d="M710.7,231.5 L710.7,214.2 L739.6,211.9 L736.7,228"/>
<path d="M739.6,212 C742.5,222 744,232 745,240"/>
</g>
<rect x="695.2" y="229.4" width="15.2" height="9.4" fill="#2c2c2c" stroke="#8a8a8a" stroke-width="0.7"/>
<path d="M697,231.5 h11.5 M697,234 h11.5 M697,236.5 h11.5" stroke="#777" stroke-width="0.7"/>
<path d="M696,250 L700.8,270.6 Q713.5,273.6 726.4,270.6 L731.4,250 Z" fill="#bdbdbd" opacity="0.55"/>
<path d="M696.0,251 L700.8,270.6 M696.0,251 L701.8,261.0 L700.8,270.6 M699.9,251 L698.4,261.0 L703.6,270.6 M699.9,251 L703.6,271.6 M699.9,251 L705.2,261.0 L703.6,271.6 M703.9,251 L701.8,261.0 L706.5,271.6 M703.9,251 L706.5,272.5 M703.9,251 L708.6,261.0 L706.5,272.5 M707.8,251 L705.2,261.0 L709.3,272.5 M707.8,251 L709.3,273.2 M707.8,251 L712.0,261.0 L709.3,273.2 M711.7,251 L708.6,261.0 L712.2,273.2 M711.7,251 L712.2,273.6 M711.7,251 L715.3,261.0 L712.2,273.6 M715.7,251 L712.0,261.0 L715.0,273.6 M715.7,251 L715.0,273.6 M715.7,251 L718.7,261.0 L715.0,273.6 M719.6,251 L715.3,261.0 L717.9,273.6 M719.6,251 L717.9,273.2 M719.6,251 L722.1,261.0 L717.9,273.2 M723.5,251 L718.7,261.0 L720.7,273.2 M723.5,251 L720.7,272.5 M723.5,251 L725.5,261.0 L720.7,272.5 M727.5,251 L722.1,261.0 L723.6,272.5 M727.5,251 L723.6,271.6 M727.5,251 L728.9,261.0 L723.6,271.6 M731.4,251 L725.5,261.0 L726.4,271.6 M731.4,251 L726.4,270.6" stroke="#f7f7f7" stroke-width="1.15" fill="none" stroke-linecap="round"/>
<path d="M694.6,242.4 L696.0,251.4 M694.6,242.4 L699.9,251.4 M698.8,242.4 L696.0,251.4 M698.8,242.4 L699.9,251.4 M698.8,242.4 L703.9,251.4 M703.1,242.4 L699.9,251.4 M703.1,242.4 L703.9,251.4 M703.1,242.4 L707.8,251.4 M707.3,242.4 L703.9,251.4 M707.3,242.4 L707.8,251.4 M707.3,242.4 L711.7,251.4 M711.6,242.4 L707.8,251.4 M711.6,242.4 L711.7,251.4 M711.6,242.4 L715.7,251.4 M715.8,242.4 L711.7,251.4 M715.8,242.4 L715.7,251.4 M715.8,242.4 L719.6,251.4 M720.1,242.4 L715.7,251.4 M720.1,242.4 L719.6,251.4 M720.1,242.4 L723.5,251.4 M724.3,242.4 L719.6,251.4 M724.3,242.4 L723.5,251.4 M724.3,242.4 L727.5,251.4 M728.6,242.4 L723.5,251.4 M728.6,242.4 L727.5,251.4 M728.6,242.4 L731.4,251.4 M732.8,242.4 L727.5,251.4 M732.8,242.4 L731.4,251.4" stroke="#d84a40" stroke-width="1.7" fill="none" stroke-linecap="round"/>
<ellipse cx="713.7" cy="241.6" rx="20.3" ry="3.1" fill="none" stroke="#d6443b" stroke-width="2.2"/>
<path d="M693.6,242.4 Q713.7,247.6 733.8,242.4" stroke="#e7665c" stroke-width="1.4" fill="none"/>
<path d="M725.5,267.5 L731.6,292" stroke="#1a1a1a" stroke-width="5.6"/>
<ellipse cx="721.0" cy="280.5" rx="2.5" ry="1.8" fill="#0e0e0e"/>
<ellipse cx="735.6" cy="280.0" rx="2.5" ry="1.8" fill="#0e0e0e"/>
<ellipse cx="722.5" cy="288.0" rx="2.5" ry="1.8" fill="#0e0e0e"/>
<ellipse cx="737.0" cy="287.4" rx="2.5" ry="1.8" fill="#0e0e0e"/>
</g>
<g id="poles-front">
<path d="M229.5,199.5 L229.4,199.8 L229.3,199.9 L229.0,200.2 L228.6,200.7 L228.1,201.4 L227.4,202.4 L226.3,203.9 L225.0,205.8 L223.2,208.3 L221.0,211.5 L218.4,215.1 L215.6,219.1 L212.7,223.2 L209.8,227.5 L207.0,231.6 L204.4,235.6 L202.0,239.4 L199.7,243.1 L197.5,246.9 L195.3,250.7 L193.1,254.4 L191.1,258.2 L189.0,262.0 L187.1,265.8 L185.2,269.6 L183.3,273.3 L181.5,277.1 L179.8,280.9 L178.2,284.7 L176.5,288.5 L175.0,292.2 L173.5,296.0 L172.1,299.8 L170.9,303.4 L169.7,307.0 L168.5,310.6 L167.4,314.3 L166.3,318.1 L165.2,322.1 L164.0,326.4 L162.7,331.0 L161.4,335.9 L160.0,341.1 L158.6,346.5 L157.2,352.0 L155.9,357.5 L154.8,362.9 L153.8,368.3 L152.9,373.6 L152.2,379.2 L151.6,384.7 L151.1,390.2 L150.6,395.4 L150.3,400.3 L149.9,404.7 L149.6,408.4 L149.4,411.6 L149.2,414.0 L149.2,416.1 L149.1,417.8 L149.1,419.5 L149.1,421.1 L149.2,422.8 L149.2,425.1 L149.2,427.7 L149.2,430.5 L149.2,433.6 L149.3,436.8 L149.4,440.1 L149.5,443.5 L149.7,447.0 L149.9,450.6 L150.2,454.1 L150.5,457.6 L150.8,461.2 L151.2,464.9 L151.7,468.8 L152.2,472.8 L152.9,477.0 L153.7,481.4 L154.7,486.0 L155.7,490.9 L156.9,495.9 L158.2,501.0 L159.5,506.2 L160.9,511.4 L162.4,516.6 L163.9,521.6 L165.4,526.8 L167.1,532.1 L168.9,537.4 L170.7,542.7 L172.5,547.8 L174.3,552.7 L175.9,557.3 L177.5,561.5 L178.9,565.5 L180.3,569.4 L181.7,573.0 L183.0,576.4 L184.2,579.5 L185.2,582.2 L186.1,584.4 L186.8,586.2 L200.8,580.8 L200.1,579.0 L199.2,576.7 L198.2,574.0 L197.0,571.0 L195.7,567.7 L194.4,564.1 L193.0,560.4 L191.5,556.5 L190.0,552.3 L188.4,547.7 L186.6,542.8 L184.8,537.7 L183.1,532.6 L181.3,527.4 L179.7,522.3 L178.1,517.4 L176.7,512.4 L175.3,507.4 L173.9,502.4 L172.6,497.3 L171.4,492.4 L170.2,487.5 L169.2,482.9 L168.3,478.6 L167.5,474.5 L166.9,470.6 L166.4,466.9 L165.9,463.3 L165.6,459.7 L165.3,456.3 L165.0,452.8 L164.7,449.4 L164.5,446.1 L164.3,442.9 L164.2,439.6 L164.1,436.5 L164.1,433.4 L164.0,430.5 L164.0,427.6 L164.0,424.9 L164.0,422.6 L163.9,420.8 L163.9,419.3 L163.9,418.0 L163.9,416.6 L164.0,414.8 L164.1,412.6 L164.4,409.6 L164.6,405.7 L165.0,401.4 L165.3,396.6 L165.7,391.5 L166.2,386.2 L166.8,380.9 L167.5,375.7 L168.2,370.7 L169.2,365.8 L170.2,360.6 L171.5,355.4 L172.8,350.1 L174.1,344.8 L175.5,339.7 L176.8,334.8 L178.0,330.2 L179.2,326.0 L180.3,322.1 L181.3,318.4 L182.4,314.9 L183.5,311.5 L184.6,308.1 L185.8,304.7 L187.1,301.2 L188.5,297.5 L189.9,293.9 L191.4,290.3 L192.9,286.7 L194.5,283.1 L196.2,279.5 L198.0,275.8 L199.7,272.2 L201.6,268.6 L203.5,264.9 L205.5,261.3 L207.5,257.6 L209.6,254.0 L211.8,250.3 L214.0,246.7 L216.2,243.0 L218.6,239.2 L221.3,235.2 L224.1,231.1 L226.9,227.0 L229.6,223.0 L232.2,219.4 L234.4,216.2 L236.2,213.6 L237.5,211.7 L238.5,210.3 L239.1,209.4 L239.5,208.9 L239.7,208.6 L239.9,208.4 L240.2,208.1 L240.5,207.7Z" fill="#1a1a1a"/>
<path d="M232.3,201.6 L232.1,201.8 L231.9,202.0 L231.7,202.3 L231.3,202.8 L230.8,203.4 L230.1,204.4 L229.1,205.8 L227.8,207.7 L226.0,210.3 L223.8,213.5 L221.2,217.1 L218.4,221.1 L215.5,225.2 L212.6,229.4 L209.9,233.5 L207.4,237.4 L205.0,241.2 L202.7,244.9 L200.5,248.7 L198.3,252.4 L196.2,256.2 L194.2,259.9 L192.2,263.6 L190.2,267.4 L188.4,271.1 L186.5,274.9 L184.8,278.6 L183.1,282.3 L181.5,286.1 L179.9,289.8 L178.4,293.6 L176.9,297.3 L175.6,301.0 L174.3,304.6 L173.1,308.1 L172.0,311.7 L170.9,315.3 L169.8,319.1 L168.7,323.1 L167.5,327.3 L166.2,332.0 L164.9,336.9 L163.5,342.1 L162.1,347.4 L160.8,352.8 L159.5,358.3 L158.4,363.6 L157.4,368.9 L156.6,374.2 L155.8,379.6 L155.2,385.1 L154.7,390.5 L154.3,395.7 L153.9,400.5 L153.6,404.9 L153.3,408.7 L153.1,411.8 L152.9,414.2 L152.8,416.2 L152.8,417.9 L152.8,419.4 L152.8,421.0 L152.9,422.8 L152.9,425.0 L152.9,427.7 L152.9,430.5 L152.9,433.5 L153.0,436.7 L153.1,440.0 L153.2,443.3 L153.4,446.8 L153.6,450.3 L153.9,453.7 L154.2,457.2 L154.5,460.8 L154.9,464.5 L155.3,468.3 L155.9,472.3 L156.6,476.4 L157.4,480.7 L158.3,485.3 L159.3,490.0 L160.5,495.0 L161.8,500.1 L163.1,505.2 L164.5,510.4 L166.0,515.5 L167.4,520.6 L169.0,525.7 L170.7,530.9 L172.5,536.2 L174.3,541.4 L176.1,546.5 L177.8,551.4 L179.5,556.0 L181.0,560.3 L182.4,564.2 L183.8,568.1 L185.2,571.7 L186.5,575.1 L187.7,578.1 L188.7,580.8 L189.6,583.1 L190.3,584.8 L197.3,582.2 L196.6,580.4 L195.7,578.1 L194.7,575.4 L193.5,572.4 L192.2,569.0 L190.8,565.4 L189.4,561.7 L188.0,557.7 L186.5,553.5 L184.9,548.9 L183.1,544.0 L181.3,539.0 L179.5,533.8 L177.8,528.6 L176.1,523.4 L174.6,518.4 L173.1,513.5 L171.7,508.4 L170.3,503.3 L169.0,498.2 L167.8,493.2 L166.6,488.4 L165.6,483.7 L164.6,479.3 L163.9,475.1 L163.2,471.2 L162.7,467.4 L162.3,463.7 L161.9,460.1 L161.6,456.6 L161.3,453.1 L161.0,449.7 L160.8,446.4 L160.6,443.0 L160.5,439.8 L160.4,436.6 L160.4,433.5 L160.3,430.5 L160.3,427.6 L160.3,425.0 L160.3,422.7 L160.2,420.9 L160.2,419.3 L160.2,417.9 L160.2,416.4 L160.3,414.6 L160.5,412.3 L160.7,409.3 L161.0,405.5 L161.3,401.1 L161.6,396.3 L162.1,391.1 L162.6,385.8 L163.1,380.5 L163.8,375.2 L164.6,370.1 L165.6,365.1 L166.7,359.8 L167.9,354.5 L169.2,349.2 L170.6,343.9 L171.9,338.8 L173.3,333.9 L174.5,329.3 L175.7,325.0 L176.8,321.1 L177.9,317.3 L178.9,313.8 L180.0,310.3 L181.2,306.9 L182.4,303.5 L183.7,299.9 L185.1,296.2 L186.6,292.6 L188.1,288.9 L189.7,285.3 L191.3,281.6 L193.0,277.9 L194.8,274.3 L196.6,270.6 L198.4,266.9 L200.4,263.3 L202.4,259.6 L204.5,255.9 L206.6,252.2 L208.7,248.5 L211.0,244.8 L213.2,241.2 L215.7,237.3 L218.4,233.3 L221.2,229.1 L224.1,225.0 L226.8,221.1 L229.4,217.4 L231.6,214.2 L233.4,211.7 L234.7,209.7 L235.7,208.4 L236.4,207.4 L236.8,206.8 L237.1,206.5 L237.2,206.3 L237.5,206.0 L237.7,205.6Z" fill="#272727"/>
<path d="M416.3,160.9 L415.7,162.8 L415.1,165.4 L414.2,168.4 L413.3,171.9 L412.3,175.6 L411.2,179.6 L410.1,183.7 L409.0,187.9 L407.9,192.2 L406.7,196.9 L405.4,201.8 L404.1,206.9 L402.8,212.1 L401.4,217.3 L400.1,222.4 L398.9,227.5 L397.6,232.4 L396.4,237.3 L395.1,242.3 L393.9,247.2 L392.7,252.2 L391.5,257.2 L390.3,262.2 L389.2,267.3 L388.2,272.3 L387.2,277.3 L386.2,282.3 L385.3,287.4 L384.4,292.4 L383.6,297.4 L382.8,302.4 L382.0,307.3 L381.3,312.3 L380.6,317.2 L379.9,322.1 L379.3,327.0 L378.7,331.9 L378.1,336.8 L377.6,341.8 L377.1,346.7 L376.7,351.7 L376.3,356.7 L376.0,361.7 L375.6,366.7 L375.3,371.7 L375.1,376.7 L374.9,381.7 L374.7,386.7 L374.6,391.7 L374.4,396.7 L374.4,401.7 L374.3,406.7 L374.3,411.7 L374.3,416.7 L374.4,421.7 L374.5,426.6 L374.6,431.6 L374.7,436.6 L374.9,441.6 L375.1,446.6 L375.3,451.6 L375.6,456.6 L375.8,461.5 L376.1,466.5 L376.5,471.5 L376.8,476.5 L377.2,481.5 L377.6,486.4 L378.1,491.4 L378.5,496.4 L379.0,501.4 L379.5,506.3 L380.0,511.3 L380.6,516.3 L381.2,521.3 L381.8,526.2 L382.4,531.2 L383.1,536.2 L383.8,541.2 L384.5,546.2 L385.4,551.4 L386.3,556.8 L387.3,562.3 L388.3,567.7 L389.3,572.9 L390.2,577.7 L391.0,582.1 L391.7,585.8 L392.2,588.9 L392.5,591.6 L392.8,594.0 L393.0,596.0 L393.2,597.7 L393.3,599.2 L393.4,600.6 L393.5,601.8 L409.5,600.2 L409.4,599.2 L409.3,597.9 L409.1,596.3 L409.0,594.5 L408.7,592.2 L408.4,589.6 L408.0,586.6 L407.5,583.2 L406.9,579.3 L406.0,574.8 L405.1,569.9 L404.1,564.7 L403.1,559.4 L402.2,554.0 L401.3,548.8 L400.5,543.8 L399.8,538.9 L399.1,534.0 L398.5,529.2 L397.9,524.3 L397.3,519.4 L396.7,514.5 L396.2,509.6 L395.7,504.7 L395.2,499.8 L394.7,494.9 L394.3,490.0 L393.9,485.1 L393.5,480.2 L393.1,475.3 L392.8,470.4 L392.5,465.5 L392.2,460.6 L391.9,455.7 L391.7,450.8 L391.5,445.9 L391.3,441.0 L391.1,436.1 L391.0,431.2 L390.9,426.4 L390.9,421.5 L390.8,416.6 L390.8,411.7 L390.9,406.8 L390.9,401.9 L391.0,397.0 L391.1,392.2 L391.3,387.3 L391.5,382.4 L391.7,377.5 L392.0,372.6 L392.3,367.7 L392.6,362.9 L393.0,358.0 L393.4,353.1 L393.9,348.3 L394.3,343.5 L394.9,338.7 L395.4,333.9 L396.0,329.1 L396.7,324.3 L397.3,319.5 L398.0,314.7 L398.8,309.9 L399.5,305.0 L400.3,300.1 L401.1,295.2 L402.0,290.3 L402.9,285.4 L403.8,280.5 L404.8,275.6 L405.8,270.7 L406.8,265.9 L407.9,261.0 L409.1,256.1 L410.2,251.3 L411.5,246.3 L412.7,241.4 L413.9,236.5 L415.1,231.5 L416.4,226.5 L417.7,221.4 L419.0,216.2 L420.3,211.0 L421.6,206.0 L422.9,201.1 L424.1,196.4 L425.2,192.1 L426.2,188.0 L427.3,183.9 L428.4,179.9 L429.4,176.2 L430.3,172.8 L431.1,169.7 L431.8,167.2 L432.3,165.1Z" fill="#1a1a1a"/>
<path d="M420.3,161.9 L419.8,163.9 L419.1,166.5 L418.2,169.5 L417.3,173.0 L416.3,176.7 L415.2,180.7 L414.2,184.8 L413.1,188.9 L411.9,193.3 L410.7,197.9 L409.5,202.9 L408.1,207.9 L406.8,213.1 L405.5,218.3 L404.2,223.5 L402.9,228.5 L401.7,233.4 L400.4,238.3 L399.2,243.3 L398.0,248.2 L396.8,253.2 L395.6,258.2 L394.4,263.1 L393.4,268.1 L392.3,273.1 L391.4,278.1 L390.4,283.1 L389.5,288.1 L388.6,293.1 L387.8,298.1 L387.0,303.0 L386.2,308.0 L385.5,312.9 L384.8,317.8 L384.1,322.7 L383.5,327.5 L382.9,332.4 L382.3,337.3 L381.8,342.2 L381.3,347.1 L380.9,352.0 L380.5,357.0 L380.1,362.0 L379.8,367.0 L379.5,371.9 L379.3,376.9 L379.0,381.9 L378.9,386.9 L378.7,391.8 L378.6,396.8 L378.5,401.8 L378.5,406.7 L378.4,411.7 L378.5,416.6 L378.5,421.6 L378.6,426.6 L378.7,431.5 L378.8,436.5 L379.0,441.5 L379.2,446.4 L379.4,451.4 L379.6,456.3 L379.9,461.3 L380.2,466.3 L380.5,471.2 L380.9,476.2 L381.3,481.1 L381.7,486.1 L382.1,491.0 L382.6,496.0 L383.1,501.0 L383.6,505.9 L384.1,510.9 L384.6,515.8 L385.2,520.8 L385.8,525.7 L386.4,530.7 L387.1,535.7 L387.8,540.6 L388.5,545.6 L389.3,550.8 L390.3,556.1 L391.3,561.6 L392.3,566.9 L393.3,572.1 L394.2,577.0 L395.0,581.4 L395.6,585.1 L396.1,588.3 L396.5,591.1 L396.8,593.5 L397.0,595.6 L397.2,597.4 L397.3,598.9 L397.4,600.2 L397.5,601.4 L405.5,600.6 L405.4,599.5 L405.3,598.2 L405.1,596.7 L405.0,594.8 L404.8,592.7 L404.5,590.1 L404.1,587.2 L403.6,583.9 L402.9,580.0 L402.1,575.5 L401.2,570.6 L400.2,565.4 L399.2,560.1 L398.2,554.7 L397.3,549.4 L396.5,544.4 L395.8,539.5 L395.1,534.6 L394.4,529.7 L393.8,524.8 L393.2,519.8 L392.7,514.9 L392.2,510.0 L391.6,505.1 L391.1,500.2 L390.7,495.2 L390.2,490.3 L389.8,485.4 L389.4,480.5 L389.0,475.6 L388.7,470.7 L388.4,465.7 L388.1,460.8 L387.8,455.9 L387.6,451.0 L387.4,446.1 L387.2,441.2 L387.0,436.3 L386.9,431.3 L386.8,426.4 L386.8,421.5 L386.7,416.6 L386.7,411.7 L386.7,406.8 L386.8,401.9 L386.9,397.0 L387.0,392.1 L387.1,387.1 L387.3,382.2 L387.6,377.3 L387.8,372.4 L388.1,367.5 L388.5,362.6 L388.8,357.7 L389.2,352.8 L389.7,347.9 L390.2,343.0 L390.7,338.2 L391.2,333.4 L391.8,328.6 L392.5,323.8 L393.2,319.0 L393.9,314.1 L394.6,309.2 L395.4,304.3 L396.1,299.4 L397.0,294.5 L397.8,289.6 L398.7,284.6 L399.7,279.7 L400.6,274.8 L401.6,269.9 L402.7,265.0 L403.8,260.1 L405.0,255.2 L406.2,250.2 L407.4,245.3 L408.6,240.4 L409.8,235.5 L411.1,230.5 L412.3,225.5 L413.6,220.4 L414.9,215.2 L416.2,210.0 L417.5,204.9 L418.8,200.0 L420.0,195.4 L421.1,191.1 L422.2,186.9 L423.3,182.8 L424.4,178.8 L425.3,175.1 L426.3,171.7 L427.1,168.6 L427.8,166.1 L428.3,164.1Z" fill="#272727"/>
<path d="M762.0,166.1 L762.4,168.0 L763.0,170.4 L763.7,173.3 L764.6,176.6 L765.5,180.2 L766.5,184.1 L767.5,188.1 L768.6,192.3 L769.8,196.7 L771.2,201.4 L772.6,206.3 L774.1,211.4 L775.6,216.5 L777.1,221.7 L778.4,226.8 L779.7,231.7 L780.9,236.5 L782.1,241.4 L783.2,246.2 L784.3,251.1 L785.4,256.0 L786.4,260.8 L787.4,265.7 L788.3,270.5 L789.2,275.4 L790.0,280.2 L790.7,285.1 L791.4,290.0 L792.1,294.9 L792.8,299.8 L793.4,304.7 L794.1,309.6 L794.7,314.5 L795.2,319.3 L795.7,324.1 L796.2,328.9 L796.7,333.7 L797.2,338.5 L797.6,343.4 L798.0,348.2 L798.4,353.1 L798.8,358.1 L799.2,363.1 L799.5,368.2 L799.8,373.1 L800.1,378.0 L800.3,382.8 L800.5,387.4 L800.7,391.7 L800.8,395.9 L800.9,400.0 L801.0,403.9 L801.1,407.9 L801.1,411.8 L801.1,415.8 L801.1,420.0 L801.1,424.3 L801.0,428.7 L801.0,433.2 L800.9,437.8 L800.8,442.3 L800.6,446.6 L800.5,450.8 L800.4,454.7 L800.3,458.2 L800.2,461.3 L800.1,464.1 L800.0,466.8 L799.8,469.5 L799.6,472.4 L799.4,475.6 L799.2,479.3 L798.8,483.6 L798.5,488.2 L798.0,493.0 L797.6,498.1 L797.1,503.2 L796.6,508.4 L796.0,513.5 L795.5,518.5 L794.8,523.4 L794.1,528.5 L793.3,533.7 L792.5,538.8 L791.7,543.9 L790.9,548.8 L790.1,553.4 L789.5,557.7 L788.9,561.7 L788.3,565.3 L787.8,568.7 L787.3,571.9 L786.8,574.9 L786.4,577.8 L785.9,580.6 L785.5,583.2 L785.1,585.8 L784.7,588.4 L784.3,590.8 L784.0,593.1 L783.7,595.1 L783.4,597.0 L783.1,598.5 L782.9,599.7 L799.1,602.3 L799.2,601.1 L799.5,599.5 L799.8,597.7 L800.1,595.6 L800.5,593.3 L800.9,590.9 L801.3,588.4 L801.7,585.8 L802.1,583.1 L802.5,580.4 L803.0,577.5 L803.5,574.5 L804.0,571.3 L804.5,567.8 L805.1,564.2 L805.7,560.3 L806.4,556.0 L807.2,551.4 L808.0,546.5 L808.8,541.4 L809.7,536.2 L810.5,530.9 L811.2,525.7 L811.9,520.5 L812.6,515.4 L813.1,510.2 L813.7,504.9 L814.2,499.6 L814.7,494.5 L815.1,489.6 L815.5,484.9 L815.8,480.7 L816.1,476.9 L816.4,473.5 L816.6,470.5 L816.7,467.6 L816.9,464.8 L817.0,461.9 L817.1,458.8 L817.2,455.3 L817.4,451.4 L817.5,447.2 L817.6,442.8 L817.8,438.2 L817.9,433.6 L818.0,429.0 L818.0,424.4 L818.1,420.0 L818.1,415.8 L818.1,411.7 L818.0,407.7 L818.0,403.6 L817.9,399.6 L817.8,395.4 L817.7,391.1 L817.5,386.6 L817.3,382.0 L817.0,377.1 L816.8,372.1 L816.4,367.1 L816.1,362.0 L815.8,356.9 L815.4,351.8 L815.0,346.8 L814.6,341.9 L814.1,337.0 L813.6,332.1 L813.2,327.2 L812.6,322.3 L812.1,317.4 L811.5,312.5 L810.9,307.6 L810.3,302.6 L809.7,297.7 L809.1,292.7 L808.4,287.6 L807.7,282.6 L807.0,277.6 L806.2,272.5 L805.3,267.5 L804.4,262.4 L803.4,257.4 L802.4,252.4 L801.4,247.4 L800.3,242.4 L799.1,237.4 L798.0,232.4 L796.7,227.3 L795.3,222.2 L793.8,216.9 L792.3,211.6 L790.7,206.4 L789.1,201.3 L787.6,196.5 L786.2,191.9 L785.0,187.7 L783.9,183.7 L782.8,179.8 L781.8,176.0 L780.8,172.4 L780.0,169.2 L779.2,166.3 L778.6,163.9 L778.0,161.9Z" fill="#1a1a1a"/>
<path d="M766.0,165.0 L766.5,166.9 L767.1,169.4 L767.8,172.3 L768.6,175.6 L769.5,179.2 L770.5,183.0 L771.6,187.0 L772.7,191.1 L773.9,195.5 L775.3,200.1 L776.7,205.1 L778.2,210.1 L779.8,215.3 L781.2,220.5 L782.7,225.6 L783.9,230.6 L785.2,235.5 L786.4,240.4 L787.5,245.3 L788.6,250.2 L789.7,255.1 L790.7,260.0 L791.6,264.9 L792.5,269.8 L793.4,274.7 L794.2,279.6 L795.0,284.5 L795.7,289.4 L796.4,294.4 L797.0,299.3 L797.7,304.2 L798.3,309.1 L798.9,314.0 L799.4,318.8 L800.0,323.7 L800.5,328.5 L801.0,333.3 L801.4,338.1 L801.8,343.0 L802.3,347.9 L802.7,352.8 L803.0,357.8 L803.4,362.8 L803.7,367.9 L804.0,372.9 L804.3,377.8 L804.5,382.6 L804.8,387.2 L804.9,391.6 L805.1,395.8 L805.2,399.9 L805.3,403.9 L805.3,407.8 L805.3,411.8 L805.4,415.8 L805.4,420.0 L805.3,424.3 L805.3,428.8 L805.2,433.3 L805.1,437.9 L805.0,442.4 L804.9,446.8 L804.7,451.0 L804.6,454.9 L804.5,458.4 L804.4,461.5 L804.3,464.3 L804.1,467.0 L804.0,469.8 L803.8,472.7 L803.6,475.9 L803.3,479.7 L803.0,483.9 L802.6,488.5 L802.2,493.4 L801.8,498.5 L801.3,503.6 L800.7,508.8 L800.2,514.0 L799.6,519.0 L798.9,524.0 L798.2,529.1 L797.4,534.3 L796.6,539.5 L795.8,544.5 L795.0,549.4 L794.2,554.1 L793.5,558.4 L792.9,562.3 L792.4,565.9 L791.8,569.3 L791.3,572.6 L790.9,575.6 L790.4,578.4 L790.0,581.2 L789.6,583.9 L789.2,586.5 L788.8,589.0 L788.4,591.4 L788.0,593.7 L787.7,595.8 L787.4,597.6 L787.2,599.2 L787.0,600.4 L795.0,601.6 L795.2,600.4 L795.5,598.9 L795.8,597.1 L796.1,595.0 L796.4,592.7 L796.8,590.3 L797.2,587.7 L797.6,585.1 L798.1,582.5 L798.5,579.7 L799.0,576.8 L799.4,573.8 L799.9,570.6 L800.5,567.2 L801.1,563.6 L801.7,559.6 L802.3,555.4 L803.1,550.8 L803.9,545.9 L804.7,540.8 L805.6,535.6 L806.4,530.3 L807.1,525.1 L807.8,520.0 L808.4,514.9 L809.0,509.7 L809.5,504.5 L810.0,499.2 L810.5,494.1 L810.9,489.2 L811.3,484.6 L811.7,480.3 L812.0,476.6 L812.2,473.2 L812.4,470.2 L812.5,467.4 L812.7,464.6 L812.8,461.8 L812.9,458.7 L813.0,455.1 L813.1,451.2 L813.3,447.0 L813.4,442.6 L813.5,438.1 L813.7,433.5 L813.7,428.9 L813.8,424.4 L813.8,420.0 L813.8,415.8 L813.8,411.7 L813.8,407.7 L813.8,403.7 L813.7,399.7 L813.6,395.5 L813.4,391.3 L813.2,386.8 L813.0,382.2 L812.8,377.3 L812.5,372.4 L812.2,367.4 L811.9,362.3 L811.5,357.2 L811.1,352.1 L810.7,347.1 L810.3,342.2 L809.9,337.4 L809.4,332.5 L808.9,327.6 L808.4,322.8 L807.9,317.9 L807.3,313.0 L806.7,308.1 L806.1,303.2 L805.5,298.2 L804.9,293.2 L804.2,288.2 L803.5,283.2 L802.7,278.2 L801.9,273.2 L801.1,268.2 L800.1,263.2 L799.2,258.3 L798.2,253.3 L797.1,248.3 L796.0,243.3 L794.9,238.4 L793.7,233.4 L792.5,228.4 L791.1,223.3 L789.6,218.1 L788.1,212.9 L786.5,207.7 L785.0,202.6 L783.5,197.7 L782.1,193.1 L780.9,188.9 L779.8,184.8 L778.7,180.9 L777.7,177.1 L776.8,173.5 L775.9,170.2 L775.2,167.3 L774.5,164.9 L774.0,163.0Z" fill="#272727"/>
<path d="M963.4,205.8 L963.6,206.2 L963.9,206.6 L964.2,207.1 L964.7,207.8 L965.3,208.7 L966.1,209.9 L967.1,211.5 L968.6,213.6 L970.4,216.3 L972.7,219.5 L975.2,223.2 L978.0,227.1 L980.8,231.2 L983.6,235.3 L986.2,239.2 L988.6,243.0 L990.8,246.7 L993.0,250.3 L995.1,254.0 L997.2,257.6 L999.2,261.3 L1001.2,264.9 L1003.0,268.5 L1004.8,272.1 L1006.5,275.7 L1008.1,279.3 L1009.7,282.9 L1011.2,286.5 L1012.6,290.1 L1014.0,293.7 L1015.4,297.4 L1016.7,301.0 L1017.9,304.6 L1019.1,308.2 L1020.2,311.7 L1021.3,315.2 L1022.4,318.8 L1023.4,322.5 L1024.4,326.5 L1025.4,330.7 L1026.4,335.2 L1027.5,340.0 L1028.5,344.9 L1029.5,350.1 L1030.5,355.3 L1031.4,360.5 L1032.3,365.6 L1033.0,370.6 L1033.7,375.6 L1034.4,380.7 L1035.0,386.0 L1035.5,391.2 L1036.0,396.3 L1036.4,401.1 L1036.8,405.6 L1037.1,409.7 L1037.5,413.2 L1037.7,416.1 L1037.9,418.7 L1038.1,420.9 L1038.2,423.0 L1038.3,425.1 L1038.4,427.4 L1038.4,430.0 L1038.4,432.8 L1038.3,435.8 L1038.2,438.8 L1038.1,441.9 L1037.9,445.0 L1037.7,448.1 L1037.4,451.2 L1037.1,454.2 L1036.8,457.2 L1036.5,460.0 L1036.1,462.7 L1035.7,465.5 L1035.2,468.3 L1034.7,471.4 L1034.0,474.7 L1033.2,478.4 L1032.3,482.6 L1031.3,487.2 L1030.1,492.0 L1028.9,497.1 L1027.6,502.2 L1026.3,507.4 L1024.9,512.4 L1023.5,517.4 L1021.9,522.2 L1020.2,527.3 L1018.5,532.4 L1016.6,537.6 L1014.8,542.6 L1013.0,547.6 L1011.4,552.3 L1009.9,556.7 L1008.6,560.9 L1007.4,565.0 L1006.2,568.8 L1005.2,572.5 L1004.3,575.8 L1003.5,578.7 L1002.9,581.1 L1002.4,583.0 L1016.8,587.0 L1017.4,585.1 L1018.0,582.6 L1018.8,579.7 L1019.7,576.5 L1020.7,572.9 L1021.7,569.2 L1022.9,565.3 L1024.1,561.3 L1025.5,557.1 L1027.1,552.6 L1028.8,547.7 L1030.7,542.6 L1032.5,537.4 L1034.4,532.1 L1036.1,526.8 L1037.7,521.6 L1039.2,516.5 L1040.7,511.2 L1042.1,505.9 L1043.4,500.6 L1044.6,495.5 L1045.8,490.5 L1046.8,485.9 L1047.8,481.6 L1048.6,477.7 L1049.3,474.1 L1049.9,470.8 L1050.4,467.7 L1050.8,464.8 L1051.2,461.8 L1051.5,458.9 L1051.9,455.8 L1052.2,452.5 L1052.5,449.2 L1052.7,445.9 L1052.9,442.6 L1053.0,439.4 L1053.1,436.2 L1053.2,433.0 L1053.2,430.0 L1053.2,427.2 L1053.1,424.7 L1053.0,422.3 L1052.9,419.9 L1052.7,417.5 L1052.4,414.8 L1052.2,411.8 L1051.9,408.3 L1051.5,404.3 L1051.1,399.8 L1050.6,394.9 L1050.1,389.7 L1049.6,384.4 L1049.0,379.0 L1048.3,373.7 L1047.6,368.4 L1046.7,363.2 L1045.8,358.0 L1044.9,352.6 L1043.9,347.3 L1042.8,342.0 L1041.8,336.9 L1040.7,332.0 L1039.6,327.3 L1038.5,322.9 L1037.4,318.8 L1036.4,314.9 L1035.2,311.0 L1034.1,307.3 L1032.9,303.6 L1031.6,299.9 L1030.3,296.2 L1028.9,292.4 L1027.5,288.6 L1026.0,284.8 L1024.5,281.0 L1022.9,277.2 L1021.2,273.5 L1019.4,269.7 L1017.6,265.9 L1015.7,262.1 L1013.7,258.3 L1011.6,254.5 L1009.5,250.7 L1007.3,246.9 L1005.0,243.1 L1002.8,239.4 L1000.4,235.6 L997.9,231.6 L995.1,227.5 L992.2,223.3 L989.3,219.2 L986.5,215.2 L983.9,211.6 L981.7,208.4 L979.8,205.8 L978.4,203.8 L977.4,202.2 L976.6,201.1 L976.0,200.2 L975.6,199.6 L975.3,199.1 L975.0,198.7 L974.6,198.2Z" fill="#1a1a1a"/>
<path d="M966.2,203.9 L966.5,204.3 L966.7,204.8 L967.1,205.2 L967.5,205.9 L968.1,206.8 L968.9,208.0 L970.0,209.6 L971.4,211.6 L973.2,214.3 L975.5,217.5 L978.1,221.2 L980.8,225.1 L983.6,229.2 L986.4,233.3 L989.1,237.3 L991.5,241.2 L993.8,244.8 L996.0,248.5 L998.2,252.2 L1000.3,255.9 L1002.3,259.6 L1004.3,263.2 L1006.2,266.9 L1008.0,270.6 L1009.7,274.2 L1011.4,277.9 L1013.0,281.5 L1014.5,285.1 L1016.0,288.8 L1017.4,292.4 L1018.8,296.1 L1020.1,299.8 L1021.4,303.5 L1022.6,307.0 L1023.7,310.6 L1024.8,314.2 L1025.9,317.8 L1026.9,321.6 L1027.9,325.6 L1029.0,329.8 L1030.0,334.4 L1031.1,339.2 L1032.1,344.2 L1033.1,349.4 L1034.1,354.6 L1035.0,359.8 L1035.9,365.0 L1036.7,370.0 L1037.4,375.1 L1038.0,380.3 L1038.6,385.6 L1039.1,390.8 L1039.6,395.9 L1040.1,400.8 L1040.5,405.3 L1040.8,409.3 L1041.1,412.8 L1041.4,415.8 L1041.6,418.4 L1041.8,420.7 L1041.9,422.8 L1042.0,425.0 L1042.1,427.4 L1042.1,430.0 L1042.1,432.9 L1042.0,435.9 L1041.9,438.9 L1041.8,442.1 L1041.6,445.2 L1041.4,448.4 L1041.1,451.5 L1040.8,454.6 L1040.5,457.6 L1040.1,460.5 L1039.8,463.2 L1039.4,466.0 L1038.9,468.9 L1038.3,472.0 L1037.7,475.4 L1036.9,479.2 L1035.9,483.4 L1034.9,488.0 L1033.8,492.9 L1032.5,498.0 L1031.2,503.1 L1029.9,508.3 L1028.5,513.5 L1027.0,518.4 L1025.5,523.4 L1023.8,528.5 L1022.0,533.7 L1020.1,538.8 L1018.3,543.9 L1016.5,548.8 L1014.9,553.5 L1013.4,557.9 L1012.1,562.0 L1010.9,566.0 L1009.8,569.9 L1008.8,573.5 L1007.9,576.8 L1007.2,579.7 L1006.5,582.1 L1006.0,584.0 L1013.2,586.0 L1013.7,584.1 L1014.4,581.6 L1015.2,578.7 L1016.1,575.5 L1017.0,571.9 L1018.1,568.1 L1019.3,564.2 L1020.6,560.1 L1022.0,555.9 L1023.6,551.3 L1025.3,546.4 L1027.2,541.4 L1029.0,536.1 L1030.8,530.9 L1032.6,525.7 L1034.2,520.6 L1035.6,515.5 L1037.1,510.2 L1038.5,505.0 L1039.8,499.7 L1041.0,494.6 L1042.2,489.7 L1043.2,485.1 L1044.1,480.8 L1044.9,476.9 L1045.6,473.4 L1046.2,470.2 L1046.7,467.2 L1047.1,464.2 L1047.5,461.4 L1047.9,458.4 L1048.2,455.4 L1048.5,452.2 L1048.8,448.9 L1049.0,445.7 L1049.2,442.4 L1049.3,439.2 L1049.4,436.1 L1049.5,433.0 L1049.5,430.0 L1049.5,427.3 L1049.4,424.8 L1049.3,422.5 L1049.2,420.2 L1049.0,417.8 L1048.8,415.1 L1048.5,412.1 L1048.2,408.7 L1047.8,404.6 L1047.4,400.1 L1047.0,395.2 L1046.5,390.1 L1045.9,384.8 L1045.3,379.4 L1044.7,374.1 L1043.9,369.0 L1043.1,363.8 L1042.2,358.6 L1041.3,353.3 L1040.3,348.0 L1039.2,342.8 L1038.2,337.7 L1037.1,332.8 L1036.0,328.2 L1035.0,323.8 L1033.9,319.7 L1032.9,315.8 L1031.8,312.1 L1030.6,308.4 L1029.5,304.8 L1028.2,301.1 L1026.9,297.4 L1025.5,293.6 L1024.1,289.9 L1022.7,286.1 L1021.1,282.4 L1019.6,278.7 L1017.9,274.9 L1016.2,271.2 L1014.4,267.4 L1012.5,263.7 L1010.5,259.9 L1008.5,256.2 L1006.4,252.4 L1004.3,248.7 L1002.0,244.9 L999.8,241.2 L997.5,237.4 L994.9,233.5 L992.2,229.4 L989.3,225.3 L986.5,221.1 L983.7,217.2 L981.1,213.6 L978.8,210.4 L977.0,207.8 L975.6,205.7 L974.5,204.1 L973.7,203.0 L973.2,202.1 L972.7,201.5 L972.4,201.0 L972.1,200.6 L971.8,200.1Z" fill="#272727"/>
</g>
<g id="clipsF">
<path d="M410,160.6 L445.6,157.6 L446,163.6 L410.2,166.8 Z" fill="#2c2c2c"/>
<path d="M410,160.6 L445.6,157.6" stroke="#111" stroke-width="1.2"/>
<rect x="410" y="168" width="6.2" height="5.8" fill="#f4f4f4"/><rect x="432.4" y="166" width="14.3" height="6" fill="#f4f4f4"/>
<path d="M749.2,157.4 L784.8,159.6 L784.6,166 L749,163.8 Z" fill="#2c2c2c"/>
<path d="M749.2,157.4 L784.8,159.6" stroke="#111" stroke-width="1.2"/>
<rect x="747.6" y="166" width="14" height="5.6" fill="#f4f4f4"/><rect x="778.2" y="168.2" width="6.4" height="5" fill="#f4f4f4"/>
<path d="M235,202.4 L243,194.2" stroke="#1e1e1e" stroke-width="4.6" stroke-linecap="round"/>
<circle cx="243" cy="200.4" r="2.3" fill="none" stroke="#3a3a3a" stroke-width="1.1"/>
<path d="M968.8,202 L959.6,193.6" stroke="#1e1e1e" stroke-width="4.6" stroke-linecap="round"/>
<circle cx="960.4" cy="199.8" r="2.3" fill="none" stroke="#3a3a3a" stroke-width="1.1"/>
</g>
<g id="dims" fill="#000">
<rect x="79.6" y="164.8" width="27.6" height="3.4"/>
<rect x="91.2" y="165" width="3.6" height="248.6"/>
<rect x="91.2" y="496.4" width="3.6" height="296"/>
<rect x="79.8" y="790.7" width="27.5" height="3.6"/>
<rect x="1094.6" y="167.7" width="27.7" height="4"/>
<rect x="1106" y="168" width="4.3" height="173.6"/>
<rect x="1106" y="406.3" width="4.3" height="251.4"/>
<rect x="1094.9" y="566.4" width="27.3" height="4.4"/>
<rect x="1106" y="705.7" width="4.3" height="90"/>
<rect x="1094.9" y="794" width="27.3" height="4.2"/>
<rect x="103.2" y="869.4" width="3.8" height="27.2"/>
<rect x="105" y="881" width="409.8" height="4.5"/>
<rect x="690.6" y="881" width="420" height="4.5"/>
<rect x="1108.5" y="869.4" width="3.8" height="27.2"/>
</g>
<g id="labels">
<text x="75.6" y="95.8" font-size="52.0" textLength="650.0" lengthAdjust="spacingAndGlyphs" stroke-width="1.60" >12FT Outdoor Trampoline</text>
<text x="22.2" y="466.7" font-size="25.5" textLength="126.2" lengthAdjust="spacingAndGlyphs" stroke-width="0.80" >107.87inch</text>
<text x="1065.2" y="380.5" font-size="25.0" textLength="115.0" lengthAdjust="spacingAndGlyphs" stroke-width="0.80" >72.83inch</text>
<text x="1065.8" y="692.4" font-size="25.0" textLength="115.7" lengthAdjust="spacingAndGlyphs" stroke-width="0.80" >35.04inch</text>
<text x="535.0" y="891.0" font-size="24.0" textLength="135.5" lengthAdjust="spacingAndGlyphs" stroke-width="0.80" >144.09 inch</text>
<text x="88.7" y="985.4" font-size="33.5" textLength="323.2" lengthAdjust="spacingAndGlyphs" stroke-width="1.00" >Height of Trampoline</text>
<text transform="translate(412.6,985.4) scale(1,0.88)" x="0" y="0" font-size="17" stroke-width="1.7" style="font-family:'Liberation Serif','Noto Sans CJK SC',sans-serif;font-weight:bold">：</text>
<text x="438.0" y="985.4" font-size="33.5" textLength="172.2" lengthAdjust="spacingAndGlyphs" stroke-width="1.00" >107.87inch</text>
<text x="88.7" y="1057.5" font-size="33.5" textLength="376.5" lengthAdjust="spacingAndGlyphs" stroke-width="1.00" >Height of Leg: 35.04inch</text>
<text x="773.6" y="980.7" font-size="33.5" textLength="216.3" lengthAdjust="spacingAndGlyphs" stroke-width="1.00" >Springs:72pcs</text>
<text x="775.2" y="1053.2" font-size="33.5" textLength="142.4" lengthAdjust="spacingAndGlyphs" stroke-width="1.00" >Leg: 4pcs</text>
<text x="775.2" y="1125.7" font-size="33.5" textLength="337.0" lengthAdjust="spacingAndGlyphs" stroke-width="1.00" >Pole of safety net: 8pcs</text>
</g>
</svg></body></html>
